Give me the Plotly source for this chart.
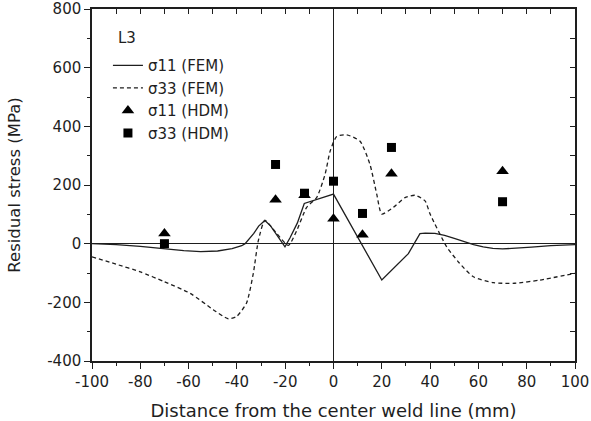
import plotly.graph_objects as go

# FEM curves
s11_fem_x = [-100, -90, -80, -70, -62, -55, -48, -42, -38, -36.6, -33, -31, -28.4, -26, -23, -20.1, -18, -15, -12.1, 0, 20, 31, 35.8, 38, 42, 46, 50, 54, 58, 62, 66, 70, 76, 82, 90, 100]
s11_fem_y = [0, -3, -9, -17, -24, -27, -25, -17, -7, 0, 35, 60, 79, 60, 25, -11, 20, 70, 137, 169, -124, -34, 34, 36, 35, 28, 18, 7, -3, -11, -16, -18, -16, -12, -7, -3]

s33_fem_x = [-100, -90, -80, -70, -59.4, -49.8, -43.6, -40.1, -36, -33.2, -31.1, -28.4, -24, -18.7, -15.2, -11.1, -7, -3.5, -1.4, 1.3, 5.5, 11, 15.1, 17.9, 20, 24.8, 29.6, 33.7, 37.9, 40, 46.9, 52, 57.9, 66.2, 75, 85.5, 100]
s33_fem_y = [-45, -70, -96, -130, -169, -225, -256, -248, -202, -101, 11, 79, 40, -6, 45, 124, 157, 236, 315, 365, 371, 349, 270, 169, 101, 124, 157, 165, 146, 101, -11, -65, -113, -133, -135, -124, -101]

# HDM measurements
s11_hdm_x = [-70, -24, -12, 0, 12, 24, 70]
s11_hdm_y = [35, 150, 165, 85, 30, 238, 247]
s33_hdm_x = [-70, -24, -12, 0, 12, 24, 70]
s33_hdm_y = [0, 270, 172, 213, 103, 328, 143]

x_ticks = [-100, -80, -60, -40, -20, 0, 20, 40, 60, 80, 100]
x_ticktext = ["-100", "-80", "-60", "-40", "-20", "0", "20", "40", "60", "80", "100"]
y_ticks = [-400, -200, 0, 200, 400, 600, 800]
y_ticktext = ["-400", "-200", "0", "200", "400", "600", "800"]

x_range = [-100, 100]
y_range = [-400, 800]

ink = "#1e1e1e"
fig = go.Figure()
fig.add_trace(go.Scatter(x=s11_fem_x, y=s11_fem_y, mode="lines", name="σ11 (FEM)",
                         line=dict(color=ink, width=1.3)))
fig.add_trace(go.Scatter(x=s33_fem_x, y=s33_fem_y, mode="lines", name="σ33 (FEM)",
                         line=dict(color=ink, width=1.3, dash="4px,3px", shape="spline", smoothing=0.6)))
fig.add_trace(go.Scatter(x=s11_hdm_x, y=s11_hdm_y, mode="markers", name="σ11 (HDM)",
                         marker=dict(symbol="triangle-up", size=11, color="#000")))
fig.add_trace(go.Scatter(x=s33_hdm_x, y=s33_hdm_y, mode="markers", name="σ33 (HDM)",
                         marker=dict(symbol="square", size=9, color="#000")))
# invisible trace to anchor mirrored inner-tick axes
fig.add_trace(go.Scatter(x=[0], y=[0], xaxis="x2", yaxis="y2", mode="markers",
                         marker=dict(opacity=0), showlegend=False, hoverinfo="skip"))

font = "DejaVu Sans, sans-serif"
fig.update_layout(
    width=591, height=421,
    margin=dict(l=92, r=16, t=9, b=60),
    paper_bgcolor="white", plot_bgcolor="white",
    font=dict(family=font, size=15, color=ink),
    showlegend=True,
    legend=dict(x=0.033, y=0.886, xanchor="left", yanchor="top", bgcolor="rgba(0,0,0,0)",
                font=dict(size=15), tracegroupgap=0, itemwidth=30),
    xaxis=dict(range=x_range, tickmode="array", tickvals=x_ticks, ticktext=x_ticktext,
               ticks="outside", ticklen=6, tickwidth=1.3, ticklabeloverflow="allow", automargin=False,
               tickcolor=ink, showline=True, linecolor=ink, linewidth=1.5, mirror=True,
               showgrid=False, zeroline=True, zerolinecolor=ink, zerolinewidth=1.3,
               minor=dict(dtick=10, tick0=-100, ticks="outside", ticklen=3, tickcolor=ink, showgrid=False),
               tickfont=dict(size=15),
               title=dict(text="Distance from the center weld line (mm)", font=dict(size=18), standoff=22)),
    yaxis=dict(range=y_range, tickmode="array", tickvals=y_ticks, ticktext=y_ticktext,
               ticks="outside", ticklen=6, tickwidth=1.3, ticklabeloverflow="allow", automargin=False,
               tickcolor=ink, showline=True, linecolor=ink, linewidth=1.5, mirror=True,
               showgrid=False, zeroline=True, zerolinecolor=ink, zerolinewidth=1.3,
               minor=dict(dtick=100, tick0=-400, ticks="outside", ticklen=3, tickcolor=ink, showgrid=False),
               tickfont=dict(size=15),
               title=dict(text="Residual stress (MPa)", font=dict(size=16.5), standoff=22)),
    xaxis2=dict(range=x_range, overlaying="x", side="top", anchor="y", dtick=10, tick0=-100,
                ticks="inside", ticklen=5, tickwidth=1.3, tickcolor=ink, automargin=False,
                showticklabels=False, showgrid=False, zeroline=False, showline=False),
    yaxis2=dict(range=y_range, overlaying="y", side="right", anchor="x", dtick=100,
                ticks="inside", ticklen=5, tickwidth=1.3, tickcolor=ink, automargin=False,
                showticklabels=False, showgrid=False, zeroline=False, showline=False),
    annotations=[dict(text="L3", x=-90, y=700, xref="x", yref="y", showarrow=False,
                      xanchor="left", font=dict(size=15))],
)

fig.write_html("out.html")
